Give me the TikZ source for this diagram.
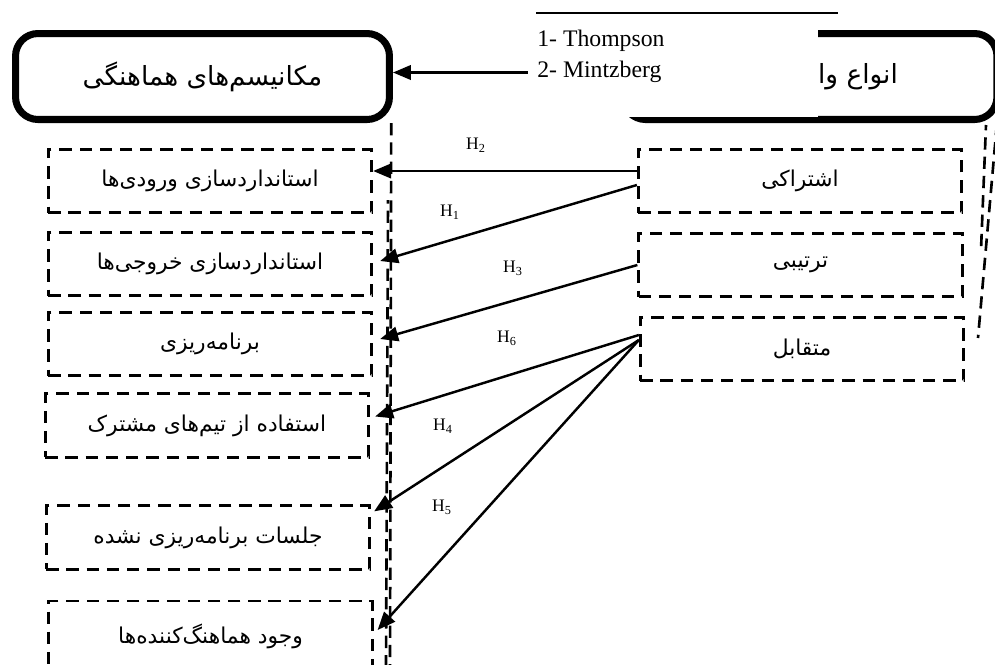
\documentclass[tikz,border=0pt]{standalone}
\usepackage{fontspec}
\setmainfont{Liberation Serif}
\newfontfamily\fa[Script=Arabic]{DejaVu Sans}
\TeXXeTstate=1
\usetikzlibrary{arrows.meta,calc}

\begin{document}
\begin{tikzpicture}[x=0.02cm, y=-0.02cm,
    mainbox/.style={draw, line width=4pt, rounded corners=0.45cm, minimum width=7.48cm, minimum height=1.72cm, inner sep=0pt},
    subbox/.style={draw, line width=1.6pt, dash pattern=on 7pt off 4.5pt, minimum width=6.47cm, minimum height=1.27cm, font=\fa\fontsize{12.4}{15}\selectfont},
    link/.style={line width=1.4pt, -{Triangle[length=0.36cm,width=0.29cm]}},
    hlabel/.style={font=\fontsize{10}{12}\selectfont},
    guide/.style={line width=1.5pt, dash pattern=on 7pt off 4pt}]
    \useasboundingbox (0,0) rectangle (995,664);
    \clip (0,0) rectangle (995,664);

    % Main boxes
    \node[mainbox, font=\fa\fontsize{15}{18}\selectfont] (mech) at (202.5,76.5) {\beginR مکانیسم‌های هماهنگی\endR};
    \node[mainbox] (types) at (810,76.5) {};
    \node[font=\fa\fontsize{15}{18}\selectfont] (typestext) at (858,77) {\beginR انواع وا\endR};
    \draw[link] ($(types.west)+(0,-4)$) -- ($(mech.east)+(0,-4)$);

    % Sources
    \fill[white] (528,14) rectangle (818,117);
    \node[anchor=north west, align=left, inner sep=0pt, font=\fontsize{13.5}{17.6}\selectfont] (refs) at (537,30) {1- Thompson\\2- Mintzberg};
    \draw[line width=0.8pt] (536,13) -- (838,13);

    % Mechanisms (left)
    \node[subbox] (l1) at (210,181) {\beginR استانداردسازی ورودی‌ها\endR};
    \node[subbox] (l2) at (210,264) {\beginR استانداردسازی خروجی‌ها\endR};
    \node[subbox] (l3) at (210,344) {\beginR برنامه‌ریزی\endR};
    \node[subbox] (l4) at (207,425.5) {\beginR استفاده از تیم‌های مشترک\endR};
    \node[subbox] (l5) at (208,537.5) {\beginR جلسات برنامه‌ریزی نشده\endR};
    \node[subbox, minimum height=1.4cm] (l6) at (210.5,636) {\beginR وجود هماهنگ‌کننده‌ها\endR};

    % Interdependence types (right)
    \node[subbox] (r1) at (800,181) {\beginR اشتراکی\endR};
    \node[subbox] (r2) at (800.5,265) {\beginR ترتیبی\endR};
    \node[subbox] (r3) at (802,349) {\beginR متقابل\endR};

    % Dashed guides
    \draw[guide] ([xshift=-1pt]mech.south east) -- (390,670);
    \draw[guide, dash phase=5pt] (388,200) -- (386,670);
    \draw[guide] ([xshift=-2pt]types.south east) -- (978,338);
    \draw[guide, dash phase=4pt] (986,125) -- (981,250);

    % Hypotheses
    \draw[link] ($(r1.west)+(0,-10)$) -- ($(l1.east)+(0,-10)$);
    \draw[link] ($(r1.west)+(0,4)$) -- ($(l2.east)+(7,-3)$);
    \draw[link] (r2.west) -- ($(l3.east)+(7,-5)$);
    \draw[link] ($(r3.west)+(0,-14)$) -- ($(l4.east)+(5,-9)$);
    \draw[link] ($(r3.west)+(0,-9)$) -- ($(l5.north east)+(3,7)$);
    \draw[link] ($(r3.west)+(0,-9)$) -- ($(l6.east)+(4,-6)$);

    \node[hlabel] (h2) at (476,145) {H\textsubscript{2}};
    \node[hlabel] (h1) at (450,212) {H\textsubscript{1}};
    \node[hlabel] (h3) at (513,268) {H\textsubscript{3}};
    \node[hlabel] (h6) at (507,338) {H\textsubscript{6}};
    \node[hlabel] (h4) at (443,426) {H\textsubscript{4}};
    \node[hlabel] (h5) at (442,507) {H\textsubscript{5}};
\end{tikzpicture}
\end{document}
